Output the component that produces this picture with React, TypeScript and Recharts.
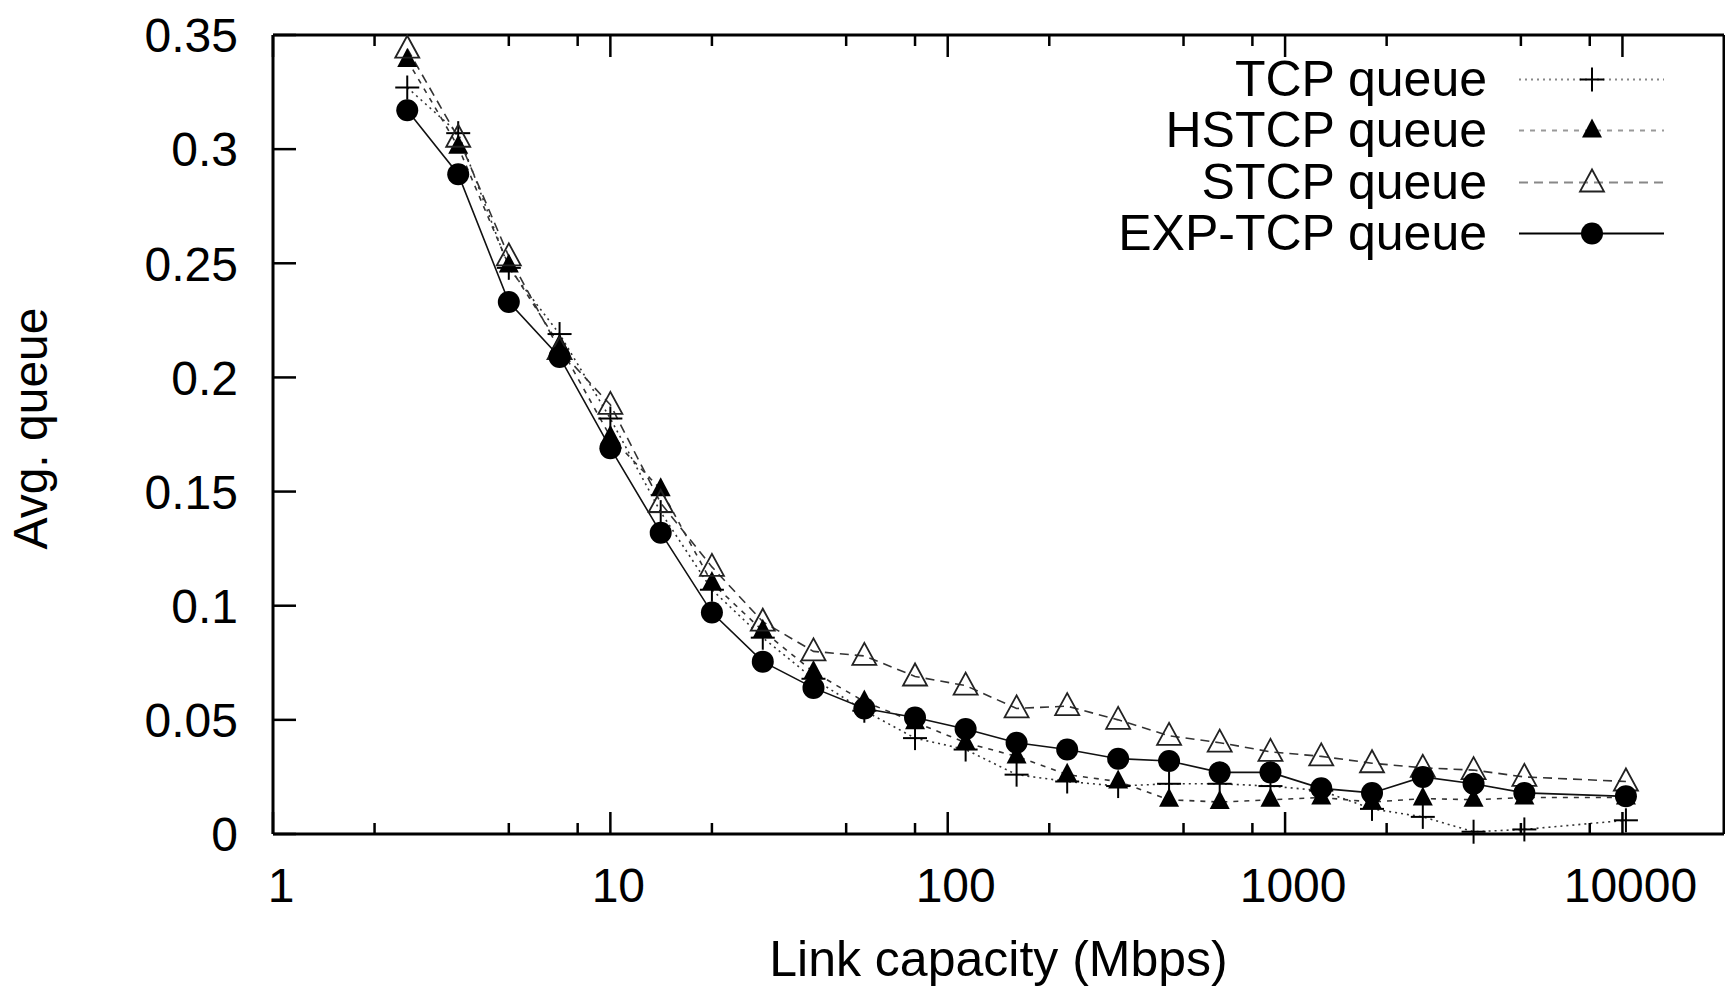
import React from "react";
import { LineChart, Line, XAxis, YAxis, Legend } from "recharts";

const FONT = "'Liberation Sans', Arial, Helvetica, sans-serif";

// link capacity in Mbps (log axis)
const capacity = [
  2.5, 3.54, 5, 7.07, 10, 14.1, 20, 28.3, 40, 56.6, 80, 113,
  160, 226, 320, 453, 640, 905, 1280, 1810, 2560, 3620, 5120, 10240,
];
const tcpQueue = [
  0.327, 0.307, 0.248, 0.219, 0.182, 0.141, 0.107, 0.086, 0.068, 0.054, 0.042, 0.037,
  0.026, 0.023, 0.021, 0.022, 0.022, 0.021, 0.019, 0.011, 0.0075, 0.001, 0.002, 0.006,
];
const hstcpQueue = [
  0.339, 0.301, 0.249, 0.214, 0.174, 0.151, 0.11, 0.089, 0.071, 0.058, 0.049, 0.04,
  0.034, 0.026, 0.023, 0.015, 0.014, 0.015, 0.016, 0.014, 0.0155, 0.015, 0.016, 0.016,
];
const stcpQueue = [
  0.344, 0.305, 0.253, 0.212, 0.188, 0.145, 0.117, 0.093, 0.08, 0.078, 0.069, 0.065,
  0.055, 0.056, 0.05, 0.043, 0.04, 0.036, 0.034, 0.031, 0.029, 0.028, 0.025, 0.023,
];
const expTcpQueue = [
  0.317, 0.289, 0.233, 0.209, 0.169, 0.132, 0.097, 0.0755, 0.064, 0.055, 0.051, 0.046,
  0.04, 0.037, 0.033, 0.032, 0.027, 0.027, 0.02, 0.018, 0.025, 0.022, 0.018, 0.0165,
];

const xTicks = [1, 2, 5, 8, 10, 20, 50, 80, 100, 200, 500, 800, 1000, 2000, 5000, 8000, 10000];
const yTicks = [0, 0.05, 0.1, 0.15, 0.2, 0.25, 0.3, 0.35];

const data = capacity.map((c, i) => ({
  x: c,
  tcp: tcpQueue[i],
  hstcp: hstcpQueue[i],
  stcp: stcpQueue[i],
  exp: expTcpQueue[i],
}));

type Kind = "plus" | "tri" | "otri" | "circle";

const series: { key: string; name: string; kind: Kind; color: string; dash?: string; legendColor: string }[] = [
  { key: "tcp", name: "TCP queue", kind: "plus", color: "#333", dash: "2 4", legendColor: "#888" },
  { key: "hstcp", name: "HSTCP queue", kind: "tri", color: "#333", dash: "5 6", legendColor: "#999" },
  { key: "stcp", name: "STCP queue", kind: "otri", color: "#333", dash: "9 6", legendColor: "#888" },
  { key: "exp", name: "EXP-TCP queue", kind: "circle", color: "#111", legendColor: "#000" },
];

function Marker({ kind, cx, cy }: { kind: Kind; cx: number; cy: number }) {
  if (cx == null || cy == null) return null;
  if (kind === "plus")
    return (
      <g stroke="#000" strokeWidth={2}>
        <line x1={cx - 12} y1={cy} x2={cx + 12} y2={cy} />
        <line x1={cx} y1={cy - 12} x2={cx} y2={cy + 12} />
      </g>
    );
  if (kind === "tri")
    return <polygon points={`${cx},${cy - 12} ${cx - 10},${cy + 7} ${cx + 10},${cy + 7}`} fill="#000" />;
  if (kind === "otri")
    return (
      <polygon
        points={`${cx},${cy - 13} ${cx - 12},${cy + 9} ${cx + 12},${cy + 9}`}
        fill="none"
        stroke="#222"
        strokeWidth={1.8}
      />
    );
  return <circle cx={cx} cy={cy} r={11} fill="#000" />;
}

const isMajor = (v: number) => Math.abs(Math.log10(v) - Math.round(Math.log10(v))) < 1e-9;

function BottomTick(props: any) {
  const { x, y, payload } = props;
  const major = isMajor(payload.value);
  return (
    <g>
      <line x1={x} y1={y} x2={x} y2={y - (major ? 22 : 11)} stroke="#000" strokeWidth={2.5} />
      {major && (
        <text x={x + 8} y={y + 68} textAnchor="middle" fontSize={48} fontFamily={FONT} fill="#000">
          {payload.value}
        </text>
      )}
    </g>
  );
}

function TopTick(props: any) {
  const { x, y, payload } = props;
  const major = isMajor(payload.value);
  return <line x1={x} y1={y} x2={x} y2={y + (major ? 22 : 11)} stroke="#000" strokeWidth={2.5} />;
}

function LeftTick(props: any) {
  const { x, y, payload } = props;
  return (
    <g>
      <line x1={x} y1={y} x2={x + 23} y2={y} stroke="#000" strokeWidth={2.5} />
      <text x={x - 35} y={y} dy="0.36em" textAnchor="end" fontSize={48} fontFamily={FONT} fill="#000">
        {String(payload.value)}
      </text>
    </g>
  );
}

function RightTick(props: any) {
  const { x, y } = props;
  return <line x1={x} y1={y} x2={x - 23} y2={y} stroke="#000" strokeWidth={2.5} />;
}

function LegendBox() {
  return (
    <div style={{ fontFamily: FONT }}>
      {series.map((s) => (
        <div key={s.key} style={{ display: "flex", alignItems: "center", height: 51.3 }}>
          <span style={{ width: 487, textAlign: "right", fontSize: 50, lineHeight: "51px", color: "#000", whiteSpace: "nowrap" }}>
            {s.name}
          </span>
          <svg width={180} height={51} style={{ display: "block" }}>
            <line
              x1={32}
              y1={25.5}
              x2={177}
              y2={25.5}
              stroke={s.legendColor}
              strokeWidth={2}
              strokeDasharray={s.dash}
            />
            <Marker kind={s.kind} cx={105} cy={25.5} />
          </svg>
        </div>
      ))}
    </div>
  );
}

export default function App() {
  return (
    <div style={{ background: "#fff" }}>
      <style>{`body{margin:0;background:#fff}`}</style>
      <LineChart
        width={1725}
        height={990}
        data={data}
        margin={{ top: 0, right: 0, bottom: 0, left: 0 }}
        style={{ fontFamily: FONT }}
      >
        <XAxis
          dataKey="x"
          type="number"
          scale="log"
          domain={[1, 20000]}
          allowDataOverflow
          ticks={xTicks}
          interval={0}
          height={156}
          tickSize={0}
          tickMargin={0}
          tickLine={false}
          axisLine={{ stroke: "#000", strokeWidth: 3 }}
          tick={<BottomTick />}
          label={{
            value: "Link capacity (Mbps)",
            position: "insideBottom",
            offset: 14,
            fontSize: 50,
            fill: "#000",
            fontFamily: FONT,
          }}
        />
        <XAxis
          xAxisId="top"
          orientation="top"
          dataKey="x"
          type="number"
          scale="log"
          domain={[1, 20000]}
          allowDataOverflow
          ticks={xTicks}
          interval={0}
          height={35}
          tickSize={0}
          tickMargin={0}
          tickLine={false}
          axisLine={{ stroke: "#000", strokeWidth: 3 }}
          tick={<TopTick />}
        />
        <YAxis
          type="number"
          domain={[0, 0.35]}
          ticks={yTicks}
          interval={0}
          width={273}
          tickSize={0}
          tickMargin={0}
          tickLine={false}
          axisLine={{ stroke: "#000", strokeWidth: 3 }}
          tick={<LeftTick />}
          label={{
            content: (p: any) => {
              const vb = p.viewBox || {};
              const lx = (vb.x ?? 0) + 47;
              const ly = (vb.y ?? 0) + (vb.height ?? 0) / 2 - 6;
              return (
                <text
                  x={lx}
                  y={ly}
                  transform={`rotate(-90 ${lx} ${ly})`}
                  textAnchor="middle"
                  fontSize={48}
                  fontFamily={FONT}
                  fill="#000"
                >
                  Avg. queue
                </text>
              );
            },
          }}
        />
        <YAxis
          yAxisId="right"
          orientation="right"
          type="number"
          domain={[0, 0.35]}
          ticks={yTicks}
          interval={0}
          width={1}
          tickSize={0}
          tickMargin={0}
          tickLine={false}
          axisLine={{ stroke: "#000", strokeWidth: 3 }}
          tick={<RightTick />}
        />
        <Legend
          layout="vertical"
          align="center"
          verticalAlign="middle"
          content={<LegendBox />}
          wrapperStyle={{ top: 54, left: 1000, width: 700, height: 210 }}
        />
        {series.map((s) => (
          <Line
            key={s.key}
            dataKey={s.key}
            name={s.name}
            type="linear"
            stroke={s.color}
            strokeWidth={1.6}
            strokeDasharray={s.dash}
            isAnimationActive={false}
            activeDot={false}
            dot={(p: any) => <Marker key={`${s.key}-${p.index}`} kind={s.kind} cx={p.cx} cy={p.cy} />}
          />
        ))}
      </LineChart>
    </div>
  );
}
